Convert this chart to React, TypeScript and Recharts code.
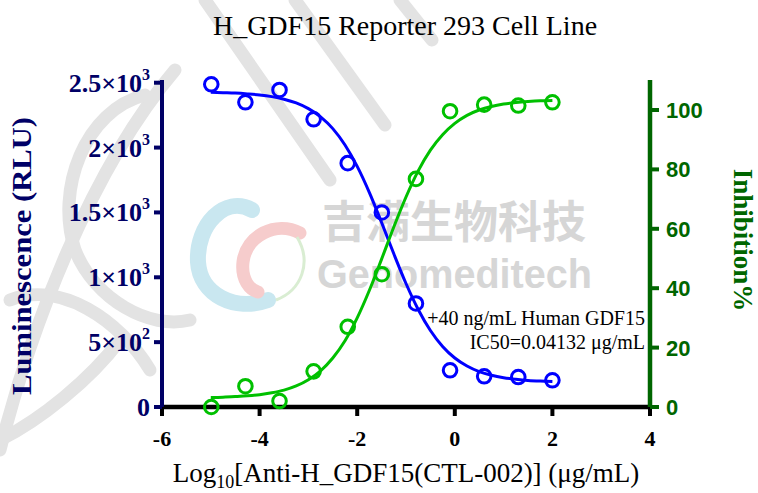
import React from 'react';
import { ComposedChart, Line, Scatter, XAxis, YAxis } from 'recharts';

// ---- data ----
const doseLog = [-4.99, -4.291, -3.592, -2.893, -2.194, -1.495, -0.796, -0.097, 0.602, 1.301, 2.0];
const luminescence = [2488, 2349, 2444, 2218, 1880, 1500, 798, 283, 237, 231, 206];
const inhibition = [0, 7.0, 2.0, 12.0, 27.0, 44.7, 76.8, 99.6, 101.8, 101.5, 102.6];

const fitX = [-5, -4.75, -4.5, -4.25, -4, -3.75, -3.5, -3.25, -3, -2.75, -2.5, -2.25, -2, -1.75, -1.5, -1.25, -1, -0.75, -0.5, -0.25, 0, 0.25, 0.5, 0.75, 1, 1.25, 1.5, 1.75, 2];
const luminescenceFit = [2426, 2423, 2420, 2414, 2406, 2393, 2373, 2344, 2300, 2237, 2146, 2020, 1855, 1653, 1422, 1181, 952, 752, 590, 467, 378, 316, 273, 245, 226, 214, 205, 200, 197];
const inhibitionFit = [3.2, 3.3, 3.5, 3.75, 4.15, 4.8, 5.7, 7.1, 9.2, 12.2, 16.5, 22.3, 30.0, 39.3, 49.8, 60.6, 70.7, 79.5, 86.5, 91.7, 95.5, 98.2, 100.0, 101.2, 102.0, 102.5, 102.85, 103.1, 103.2];

const xTicks = [-6, -4, -2, 0, 2, 4];
const leftTicks = [0, 500, 1000, 1500, 2000, 2500];
const leftTickBase = ['0', '5×10', '1×10', '1.5×10', '2×10', '2.5×10'];
const leftTickExp = ['', '2', '3', '3', '3', '3'];
const rightTicks = [0, 20, 40, 60, 80, 100];

const titleText = 'H_GDF15 Reporter 293 Cell Line';
const leftTitle = 'Luminescence (RLU)';
const rightTitle = 'Inhibition%';
const noteLine1 = '+40 ng/mL Human GDF15';
const noteLine2 = 'IC50=0.04132 μg/mL';

// ---- derived tables ----
const bluePts = doseLog.map((x, i) => ({ x, y: luminescence[i] }));
const greenPts = doseLog.map((x, i) => ({ x, y: inhibition[i] }));
const blueFit = fitX.map((x, i) => ({ x, y: luminescenceFit[i] }));
const greenFit = fitX.map((x, i) => ({ x, y: inhibitionFit[i] }));

const SERIF = '"Liberation Serif", "Times New Roman", serif';
const SANS = '"Liberation Sans", Arial, sans-serif';
const NAVY = '#000066';
const DKGREEN = '#006600';
const BLUE = '#0000FF';
const GREEN = '#00C000';

const LeftTick = (props: any) => {
  const { x, y, payload } = props;
  const i = leftTicks.indexOf(payload.value);
  return (
    <text x={x} y={y + 9} textAnchor="end" fill={NAVY} fontFamily={SERIF} fontWeight="bold" fontSize={26}>
      {leftTickBase[i]}
      {leftTickExp[i] ? (
        <tspan fontSize={16} dy={-12}>
          {leftTickExp[i]}
        </tspan>
      ) : null}
    </text>
  );
};

const RightTick = (props: any) => {
  const { x, y, payload } = props;
  return (
    <text x={x} y={y + 8} textAnchor="start" fill={DKGREEN} fontFamily={SANS} fontWeight="bold" fontSize={22}>
      {payload.value}
    </text>
  );
};

const BottomTick = (props: any) => {
  const { x, y, payload } = props;
  return (
    <text x={x} y={y + 28} textAnchor="middle" fill="#000" fontFamily={SERIF} fontWeight="bold" fontSize={22}>
      {payload.value}
    </text>
  );
};

const ring = (color: string) => (props: any) => (
  <circle cx={props.cx} cy={props.cy} r={6.8} fill="none" stroke={color} strokeWidth={3} />
);

const Watermark = () => (
  <svg width={758} height={493} style={{ position: 'absolute', left: 0, top: 0 }}>
    <g fill="none" stroke="#e3e3e3" strokeWidth={13} strokeLinecap="round">
      <path d="M 0 450 C 30 330, 90 170, 175 70" />
      <path d="M 145 95 C 85 110, 55 190, 75 250 C 95 300, 150 330, 190 320" />
      <path d="M 10 300 C 60 280, 120 320, 150 370" />
      <path d="M 205 0 L 330 180" />
      <path d="M 295 0 L 385 125" />
      <path d="M 400 0 L 432 40" />
      <path d="M 120 340 C 90 380, 40 420, 0 440" />
    </g>
    <path d="M 252 210 C 225 195, 196 225, 198 262 C 200 295, 235 312, 268 300" fill="none" stroke="#c9e7f0" strokeWidth={16} strokeLinecap="round" />
    <path d="M 300 233 C 276 220, 246 236, 243 262 C 241 280, 250 290, 258 292" fill="none" stroke="#f6cccc" strokeWidth={13} strokeLinecap="round" />
    <path d="M 297 237 C 312 262, 302 290, 276 300" fill="none" stroke="#d9edd2" strokeWidth={3} />
    <text x={322} y={238} fontFamily='"Noto Sans CJK SC", sans-serif' fontWeight="bold" fontSize={44} fill="#d6d6d6">
      吉满生物科技
    </text>
    <text x={317} y={288} fontFamily={SANS} fontWeight="bold" fontSize={40} fill="#d6d6d6" textLength={275} lengthAdjust="spacingAndGlyphs">
      Genomeditech
    </text>
  </svg>
);

const Labels = () => (
  <svg width={758} height={493} style={{ position: 'absolute', left: 0, top: 0, pointerEvents: 'none' }}>
    <text x={405} y={34.5} textAnchor="middle" fontFamily={SERIF} fontSize={28} fill="#000">
      {titleText}
    </text>
    <text
      transform="translate(31,256) rotate(-90)"
      textAnchor="middle"
      fontFamily={SERIF}
      fontWeight="bold"
      fontSize={27}
      fill={NAVY}
      textLength={278}
      lengthAdjust="spacingAndGlyphs"
    >
      {leftTitle}
    </text>
    <text transform="translate(734,240) rotate(90)" textAnchor="middle" fontFamily={SERIF} fontWeight="bold" fontSize={27} fill={DKGREEN}>
      {rightTitle}
    </text>
    <text x={406} y={482} textAnchor="middle" fontFamily={SERIF} fontSize={27} fill="#000">
      Log
      <tspan fontSize={18} dy={6}>
        10
      </tspan>
      <tspan dy={-6}>[Anti-H_GDF15(CTL-002)] (μg/mL)</tspan>
    </text>
    <text x={645} y={325} textAnchor="end" fontFamily={SERIF} fontSize={20} fill="#000">
      {noteLine1}
    </text>
    <text x={645} y={348.5} textAnchor="end" fontFamily={SERIF} fontSize={20} fill="#000">
      {noteLine2}
    </text>
  </svg>
);

export default function App() {
  return (
    <div style={{ position: 'absolute', left: 0, top: 0, width: 758, height: 493, background: '#fff' }}>
      <Watermark />
      <div style={{ position: 'absolute', left: 0, top: 0 }}>
        <ComposedChart width={758} height={493} margin={{ top: 80, right: 38, bottom: 26, left: 62 }}>
          <XAxis
            dataKey="x"
            type="number"
            domain={[-6, 4]}
            ticks={xTicks}
            interval={0}
            height={60}
            stroke="#000"
            axisLine={{ stroke: '#000', strokeWidth: 4.5 }}
            tickLine={{ stroke: '#000', strokeWidth: 4 }}
            tickSize={9}
            tickMargin={2}
            tick={<BottomTick />}
          />
          <YAxis
            yAxisId="left"
            dataKey="y"
            type="number"
            domain={[0, 2521]}
            ticks={leftTicks}
            interval={0}
            width={100}
            stroke={NAVY}
            axisLine={{ stroke: NAVY, strokeWidth: 4 }}
            tickLine={{ stroke: NAVY, strokeWidth: 4 }}
            tickSize={8}
            tickMargin={4}
            tick={<LeftTick />}
          />
          <YAxis
            yAxisId="right"
            orientation="right"
            dataKey="y"
            type="number"
            domain={[0, 110.1]}
            ticks={rightTicks}
            interval={0}
            width={70}
            stroke={DKGREEN}
            axisLine={{ stroke: DKGREEN, strokeWidth: 4.5 }}
            tickLine={{ stroke: DKGREEN, strokeWidth: 4 }}
            tickSize={9}
            tickMargin={7}
            tick={<RightTick />}
          />
          <Line yAxisId="left" data={blueFit} dataKey="y" type="monotone" stroke={BLUE} strokeWidth={3} dot={false} isAnimationActive={false} />
          <Line yAxisId="right" data={greenFit} dataKey="y" type="monotone" stroke={GREEN} strokeWidth={3} dot={false} isAnimationActive={false} />
          <Scatter yAxisId="left" data={bluePts} dataKey="y" shape={ring(BLUE)} isAnimationActive={false} />
          <Scatter yAxisId="right" data={greenPts} dataKey="y" shape={ring(GREEN)} isAnimationActive={false} />
        </ComposedChart>
      </div>
      <Labels />
    </div>
  );
}
